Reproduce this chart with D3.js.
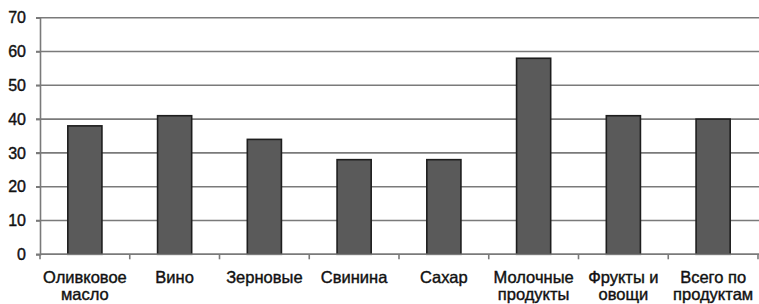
<!DOCTYPE html>
<html>
<head>
<meta charset="utf-8">
<script src="https://cdn.jsdelivr.net/npm/d3@7"></script>
<style>
  body { margin: 0; background: #fff; }
  text { font-family: "Liberation Sans", Arial, sans-serif; }
</style>
</head>
<body>
<div id="chart"></div>
<script>
//Data
var categories = [["Оливковое", "масло"], ["Вино"], ["Зерновые"], ["Свинина"], ["Сахар"],
    ["Молочные", "продукты"], ["Фрукты и", "овощи"], ["Всего по", "продуктам"]];
var values = [38, 41, 34, 28, 28, 58, 41, 40];
var yTicks = [0, 10, 20, 30, 40, 50, 60, 70];

//Sizes
var width = 759, height = 304;
var plotLeft = 40, plotRight = 758, plotTop = 17.7, plotBottom = 254.3;

//Colors
var colorGrid = "#7a7a7a";
var colorBar = "#5a5a5a";
var colorBarStroke = "#1e1e1e";
var colorText = "#111";

var svg = d3.select("#chart").append("svg")
    .attr("width", width)
    .attr("height", height);

var x = d3.scaleBand()
    .domain(d3.range(categories.length))
    .range([plotLeft, plotRight])
    .padding(0);

var y = d3.scaleLinear()
    .domain([0, 70])
    .range([plotBottom, plotTop]);

//Grid lines
svg.append("g")
    .selectAll("line")
    .data(yTicks)
    .join("line")
    .attr("x1", plotLeft - 4)
    .attr("x2", plotRight + 1)
    .attr("y1", d => y(d))
    .attr("y2", d => y(d))
    .attr("stroke", colorGrid)
    .attr("stroke-width", 1.6);

//Y axis
var yAxis = svg.append("g")
    .attr("transform", "translate(" + plotLeft + ",0)")
    .call(d3.axisLeft(y).tickValues(yTicks).tickSize(4).tickPadding(10));
yAxis.select(".domain").attr("stroke", colorGrid).attr("stroke-width", 1.6);
yAxis.selectAll(".tick line").attr("stroke", colorGrid).attr("stroke-width", 1.6);
yAxis.selectAll(".tick text")
    .attr("fill", colorText)
    .attr("stroke", colorText)
    .attr("stroke-width", 0.4)
    .attr("font-size", 16)
    .attr("font-family", "Liberation Sans, Arial, sans-serif");

//Bars
var barW = x.bandwidth() * 0.38;
svg.append("g")
    .selectAll("rect")
    .data(values)
    .join("rect")
    .attr("x", (d, i) => x(i) + (x.bandwidth() - barW) / 2)
    .attr("y", d => y(d))
    .attr("width", barW)
    .attr("height", d => y(0) - y(d))
    .attr("fill", colorBar)
    .attr("stroke", colorBarStroke)
    .attr("stroke-width", 1.6);

//X axis
var xAxis = svg.append("g")
    .attr("transform", "translate(0," + plotBottom + ")");
xAxis.append("line")
    .attr("x1", plotLeft)
    .attr("x2", plotRight + 1)
    .attr("stroke", colorGrid)
    .attr("stroke-width", 1.6);
xAxis.selectAll("line.tk")
    .data(d3.range(categories.length + 1))
    .join("line")
    .attr("class", "tk")
    .attr("x1", d => plotLeft + d * x.step())
    .attr("x2", d => plotLeft + d * x.step())
    .attr("y1", 0)
    .attr("y2", 5)
    .attr("stroke", colorGrid)
    .attr("stroke-width", 1.6);

//Category labels
var labels = svg.append("g")
    .selectAll("text")
    .data(categories)
    .join("text")
    .attr("text-anchor", "middle")
    .attr("fill", colorText)
    .attr("stroke", colorText)
    .attr("stroke-width", 0.4)
    .attr("font-size", 16.5)
    .attr("y", 283);
labels.selectAll("tspan")
    .data((d, i) => d.map(s => ({ s: s, i: i })))
    .join("tspan")
    .attr("x", d => x(d.i) + x.bandwidth() / 2)
    .attr("dy", (d, k) => k == 0 ? 0 : 17)
    .text(d => d.s);
</script>
</body>
</html>
